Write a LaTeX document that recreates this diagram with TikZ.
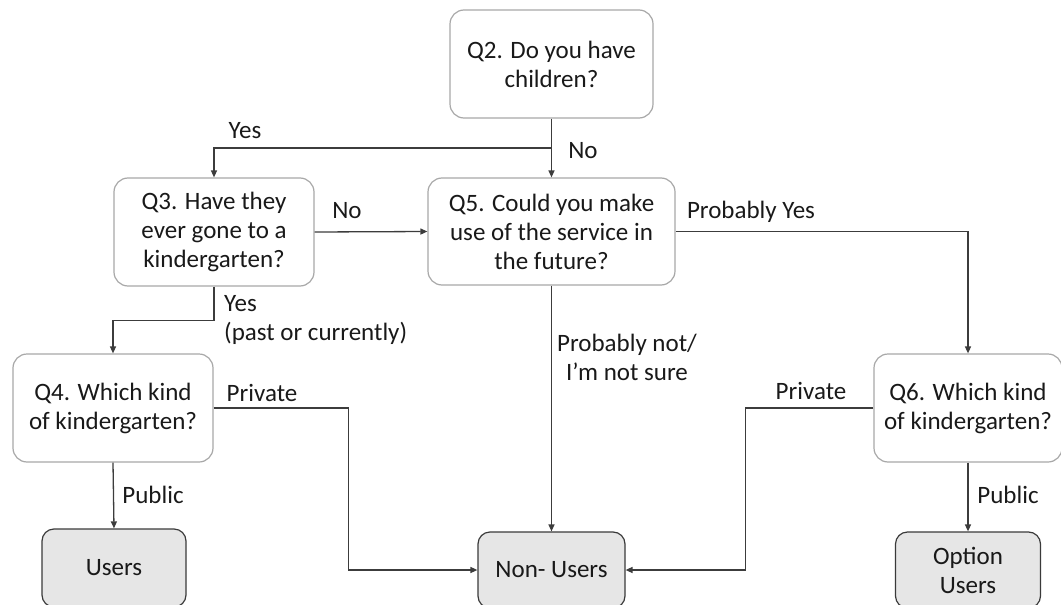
\documentclass[tikz,border=0pt]{standalone}
\usepackage{fontspec}
\setmainfont{Carlito}
\usetikzlibrary{arrows.meta}
\definecolor{linec}{HTML}{3C3C3C}
\definecolor{qborder}{HTML}{A8A8A8}
\definecolor{tfill}{HTML}{E6E6E6}
\definecolor{tborder}{HTML}{3A3A3A}
\begin{document}
\begin{tikzpicture}[x=1pt,y=-1pt,
  every node/.style={font=\fontsize{25}{29}\selectfont, text=black!90},
  qbox/.style={draw=qborder, line width=1.2pt, fill=white, rounded corners=14pt, align=center, inner sep=0pt},
  tbox/.style={draw=tborder, line width=1.2pt, fill=tfill, rounded corners=12pt, align=center, inner sep=0pt},
  arr/.style={draw=linec, line width=1.3pt, -{Triangle[length=7pt,width=6pt]}},
  lbl/.style={inner sep=0pt}
]
\useasboundingbox (0,0) rectangle (1061,605);
% boxes
\node[qbox, minimum width=203pt, minimum height=108pt] (q2) at (551.5,64) {Q2. Do you have\\children?};
\node[qbox, minimum width=200pt, minimum height=108pt] (q3) at (214,232) {Q3. Have they\\ever gone to a\\kindergarten?};
\node[qbox, minimum width=247pt, minimum height=107pt] (q5) at (551.5,231.5) {Q5. Could you make\\use of the service in\\the future?};
\node[qbox, minimum width=200pt, minimum height=108pt] (q4) at (113,408) {Q4. Which kind\\of kindergarten?};
\node[qbox, minimum width=188pt, minimum height=108pt] (q6) at (968,408) {Q6. Which kind\\of kindergarten?};
\node[tbox, minimum width=144pt, minimum height=78pt] (us) at (114,568) {Users};
\node[tbox, minimum width=147pt, minimum height=76pt] (nu) at (551.5,570) {Non- Users};
\node[tbox, minimum width=145pt, minimum height=76pt] (ou) at (968,570) {Option\\Users};
% connectors
\coordinate (j1) at (551.5,148);
\draw[arr] (q2.south) -- (q5.north);
\draw[arr] (j1) -| (q3.north);
\draw[arr] (q3.east) -- (q5.west);
\draw[arr] (q3.south) -- ++(0,34) -| (q4.north);
\draw[arr] (q5.east) -| (q6.north);
\draw[arr] (q5.south) -- (nu.north);
\draw[arr] (q4.east) -- ++(135,0) |- (nu.west);
\draw[arr] (q6.west) -- ++(-128,0) |- (nu.east);
\draw[arr] (q4.south) -- (us.north);
\draw[arr] (q6.south) -- (ou.north);
% labels
\node[lbl] (l1) at (245,131) {Yes};
\node[lbl] (l2) at (583,151) {No};
\node[lbl] (l3) at (347,211) {No};
\node[lbl, anchor=west, align=left] (l4) at (224,320) {Yes\\(past or currently)};
\node[lbl] (l5) at (751,212) {Probably Yes};
\node[lbl, align=center] (l6) at (627,357) {Probably not/\\I’m not sure};
\node[lbl] (l7) at (262,393) {Private};
\node[lbl] (l8) at (153,495) {Public};
\node[lbl] (l9) at (811,391) {Private};
\node[lbl] (l10) at (1008,495) {Public};
\end{tikzpicture}
\end{document}
